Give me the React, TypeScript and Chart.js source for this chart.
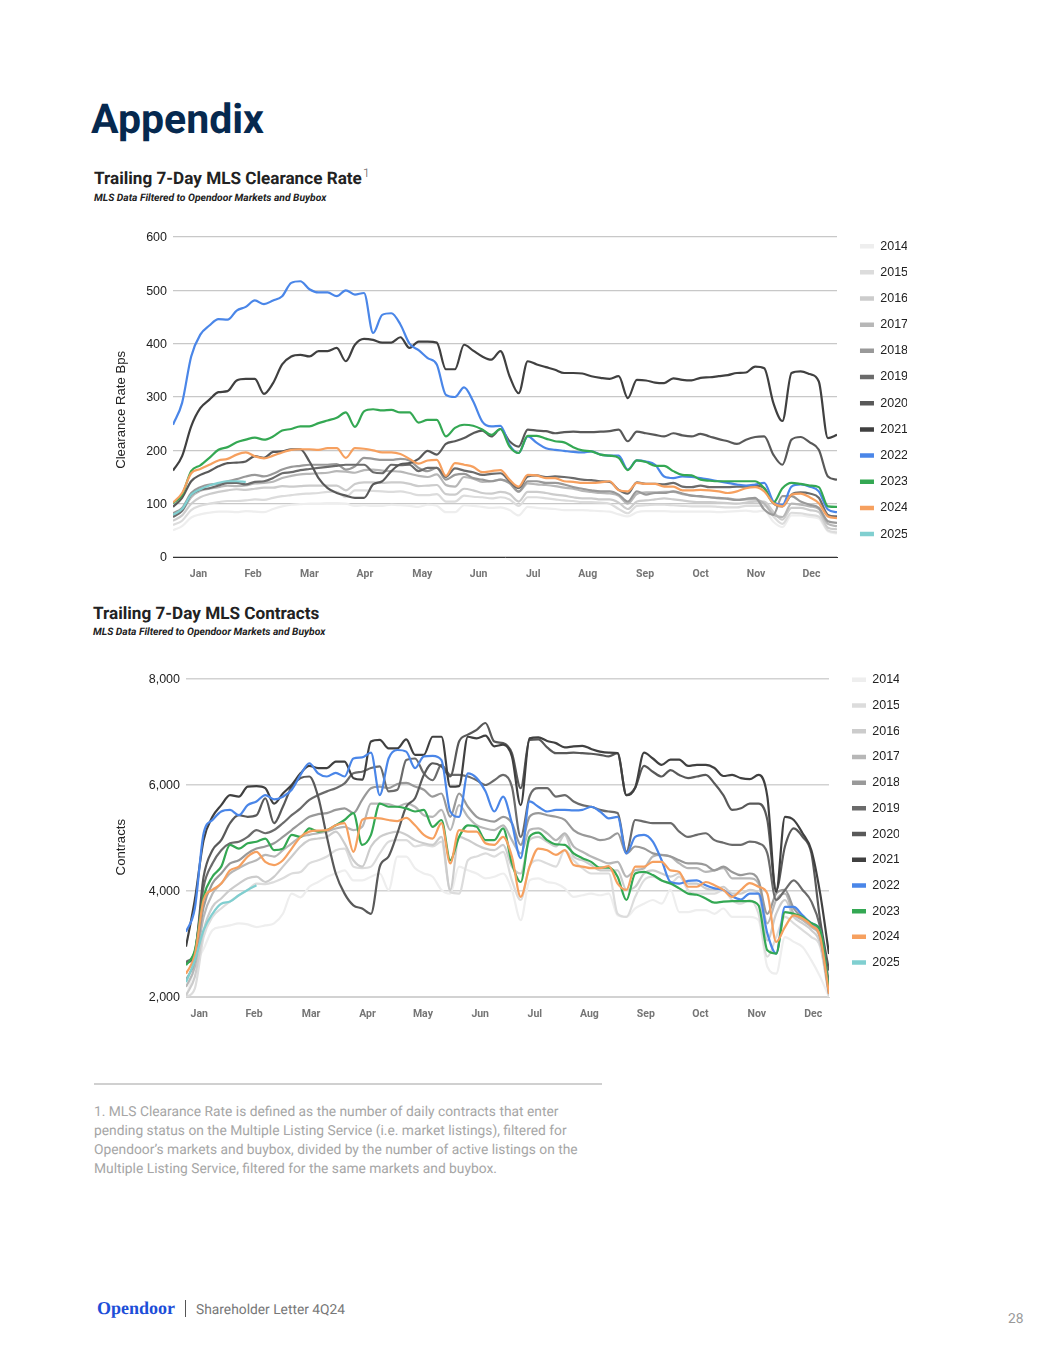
import React, { useEffect, useRef } from "react";
import { Chart, registerables } from "chart.js";

Chart.register(...registerables);

const sampleDays = [0,5,10,15,20,25,30,35,40,45,50,55,60,65,70,75,80,85,90,95,100,105,110,115,120,125,130,135,140,145,150,155,160,165,170,175,180,185,190,195,200,205,210,215,220,225,230,235,240,245,250,255,260,265,270,275,280,285,290,295,300,305,310,315,320,325,330,335,340,345,350,355,360,365];
const yearLabels = ["2014","2015","2016","2017","2018","2019","2020","2021","2022","2023","2024","2025"];
const yearColors = ["#eeeeee","#dcdcdc","#cccccc","#b7b7b7","#999999","#6b6b6b","#595959","#404040","#4a86e8","#34a853","#f6a05f","#80cfd0"];
const monthLabels = ["Jan","Feb","Mar","Apr","May","Jun","Jul","Aug","Sep","Oct","Nov","Dec"];
const clearanceMonthTicks = [14,44,75,105.5,137,168,198,228,259.5,290,320.5,351];
const contractMonthTicks = [7.5,38.6,71,103,134.5,167,198,229,261,292,324,356];

const clearance2014 = [50,58,74,80,83,85,85,84,86,85,84,90,95,98,99,100,100,101,101,100,96,97,96,96,98,97,96,94,98,96,84,84,97,96,94,92,93,88,78,94,92,91,90,88,88,88,87,86,85,80,76,84,86,86,86,85,85,85,85,85,84,85,86,87,85,87,66,56,78,78,75,72,48,44];
const clearance2015 = [60,68,88,96,100,103,105,105,106,108,107,111,114,116,118,119,120,122,122,112,125,125,124,123,122,123,120,116,116,118,104,104,115,113,112,110,112,108,96,112,112,110,108,106,105,103,103,102,100,90,82,96,97,98,98,97,96,95,95,95,94,93,93,96,96,96,76,62,83,82,79,76,50,46];
const clearance2016 = [68,78,100,112,118,122,125,127,126,128,130,130,133,132,133,134,134,134,134,125,137,140,140,139,140,140,137,133,134,135,118,117,128,125,120,119,122,118,104,122,122,120,117,115,112,110,110,108,108,102,90,104,106,108,110,108,106,104,103,103,102,101,100,102,104,104,85,70,92,92,88,84,55,52];
const clearance2017 = [78,86,112,124,128,131,134,133,134,138,139,141,148,152,155,156,157,158,161,160,158,163,164,162,161,160,156,152,150,155,135,132,150,147,141,142,145,138,122,138,136,135,133,130,128,124,122,120,119,115,100,118,121,121,122,122,118,115,113,112,110,110,107,108,108,100,80,75,100,98,95,90,62,58];
const clearance2018 = [82,92,120,131,136,137,142,146,151,154,151,156,164,169,171,173,173,173,174,164,170,186,184,182,182,184,181,167,161,167,145,154,156,148,145,142,145,139,123,142,142,139,139,136,131,128,125,123,123,117,104,123,117,120,120,123,119,115,114,112,111,109,107,109,111,89,79,114,114,104,98,92,67,64];
const clearance2019 = [75,87,117,126,129,134,139,139,136,141,142,148,157,159,163,165,167,169,171,173,173,173,159,157,173,172,173,161,167,167,150,166,162,159,154,156,157,142,129,151,153,150,151,150,148,145,144,142,141,126,119,140,137,137,136,139,132,131,134,131,131,131,132,132,134,129,101,95,117,121,119,111,79,76];
const clearance2020 = [94,111,142,154,161,170,176,177,179,189,186,197,198,202,202,179,148,129,120,115,111,111,136,142,161,174,176,184,199,192,212,217,223,232,237,226,240,217,207,239,237,236,232,234,235,234,234,235,236,239,217,235,232,229,226,232,228,226,231,226,221,217,212,220,225,226,192,173,220,225,215,201,151,145];
const clearance2021 = [162,189,245,279,295,309,311,331,334,334,306,326,361,376,379,376,386,386,392,367,398,409,407,402,402,412,392,404,404,402,352,352,398,387,376,370,386,339,307,367,361,356,351,345,345,344,339,336,334,339,298,332,331,327,326,335,332,331,336,337,339,341,345,346,357,354,289,255,345,348,343,329,223,229];
const clearance2022 = [248,289,376,417,434,446,445,462,469,481,474,481,489,514,517,502,496,496,489,500,492,495,420,454,457,436,400,388,373,361,304,300,318,292,254,245,246,210,195,226,214,204,201,199,197,196,198,192,190,190,164,181,179,173,151,148,151,150,148,145,142,139,136,134,136,139,104,98,132,136,132,123,89,84];
const clearance2023 = [101,117,161,172,186,201,206,215,220,224,220,226,237,240,245,245,251,256,261,271,244,273,277,275,276,271,271,252,257,257,226,242,248,246,239,229,240,207,195,227,227,222,217,215,206,200,198,192,190,186,163,181,178,171,171,161,154,153,145,143,142,142,142,142,142,129,102,129,139,137,134,131,95,94];
const clearance2024 = [102,120,157,165,173,181,184,192,196,189,185,190,196,201,202,202,201,204,204,186,204,203,200,196,196,193,184,175,181,182,152,176,173,169,159,161,163,145,132,154,153,148,148,142,141,139,139,140,142,125,123,139,137,137,132,132,125,125,126,125,123,120,123,129,131,123,101,95,117,119,112,101,76,73];
const clearance2025 = [79,90,117,127,134,139,142,142,141];

const contracts2014 = [1970,2570,2910,3260,3320,3350,3390,3370,3320,3350,3390,3570,3950,3880,4080,4170,4270,4330,4390,4200,4200,4270,4330,4020,4650,4650,4430,4330,4270,4020,3950,4460,4390,4330,4240,4270,4330,4020,3450,4200,4240,4170,4140,4050,3890,3920,3950,3920,3950,3540,3510,3670,3760,3830,3760,4020,3600,3600,3640,3640,3570,3670,3510,3510,3510,3450,2570,2440,3130,3040,2945,2690,2380,2000];
const contracts2015 = [2000,2160,3130,3510,3670,3800,3920,4020,4140,4130,4170,4240,4330,4360,4520,4580,4650,4770,4800,4460,4430,4460,4710,4930,4960,4960,4840,4870,4840,4930,3980,3950,4580,4650,4710,4650,4740,4200,3830,4460,4580,4520,4460,4770,4580,4430,4330,4330,4330,3570,3510,3890,4200,4270,4200,4140,4270,4020,3950,3950,3950,4020,3830,3760,3830,3570,2760,3130,3510,3390,3260,3130,2945,2000];
const contracts2016 = [2030,2380,3260,3700,3860,4020,4140,4240,4270,4170,4270,4460,4650,4840,4960,4990,5020,5120,4900,4580,4460,4840,5020,5090,5120,5060,4960,4900,4870,5020,4020,5020,4960,4870,4800,4770,4870,4460,4330,4960,5020,4930,4840,5060,4650,4580,4490,4390,4390,4390,4020,4080,4330,4390,4330,4270,4330,4140,4140,4050,4020,4080,3950,3950,4020,3950,3070,3570,3830,3510,3390,3260,3010,2030];
const contracts2017 = [2190,2570,3510,3950,4140,4330,4430,4520,4580,4680,4650,4770,4900,5020,5060,5090,5120,5180,5210,5150,5210,5650,5650,5640,5590,5650,5590,5430,5400,5530,5150,5620,5400,5240,5180,5150,5240,4960,4710,5150,5180,5090,4960,5090,4840,4740,4650,4580,4520,4550,4270,4390,4430,4650,4680,4650,4520,4430,4430,4360,4390,4430,4240,4240,4240,4140,3390,3830,3950,3570,3450,3320,3100,2060];
const contracts2018 = [2320,2690,3700,4140,4330,4520,4580,4710,4800,4840,4900,5020,5150,5280,5400,5450,5470,5530,5560,5470,5720,5940,5970,5940,6020,6040,5970,5910,5780,5840,5400,5840,5590,5400,5340,5310,5400,5280,4870,5400,5470,5430,5400,5340,5150,5060,5020,4960,4990,5090,4710,4840,4800,4710,4680,4650,4580,4520,4520,4490,4390,4460,4360,4300,4330,4200,3570,3950,4020,3670,3510,3390,3130,2060];
const contracts2019 = [2660,2850,4080,4520,4770,4900,4930,5020,5150,5090,5150,5280,5430,5560,5720,5810,5880,5940,6030,6220,6250,6320,6350,5880,5910,6470,6500,6220,6090,6380,6190,6190,6160,6090,6000,6090,6190,5970,5020,5780,5940,5940,5780,5810,5690,5620,5590,5530,5500,5470,4740,5340,5310,5280,5280,5280,5120,5020,5060,5090,4960,4910,4870,4870,4930,4900,4710,3830,4020,4200,4020,3800,3320,2250];
const contracts2020 = [2630,2820,4270,4770,4960,5280,5430,5400,5430,5750,5280,5590,5970,6130,6160,5780,5020,4330,3950,3730,3670,3570,4460,4650,5090,5590,5750,6190,6410,6350,6160,6820,6950,7040,7170,6820,6790,6600,5940,6850,6860,6710,6600,6600,6610,6600,6590,6570,6540,6600,5810,5950,6360,6250,6160,6280,6190,6130,6160,6190,6030,5810,5530,5560,5650,5650,5340,4020,4840,5180,5020,4710,3450,2500];
const contracts2021 = [2950,3830,4960,5400,5620,5810,5780,5970,5980,5940,5650,5840,6000,6220,6360,6320,6320,6440,6440,6130,6100,6820,6850,6690,6690,6860,6570,6570,6910,6910,5970,5980,6910,6880,6930,6730,6760,6540,5620,6880,6900,6830,6790,6710,6730,6740,6680,6630,6610,6600,5810,5950,6610,6500,6380,6480,6480,6360,6380,6380,6320,6170,6190,6130,6110,6190,5780,3980,5400,5340,5090,4770,3950,2810];
const contracts2022 = [3230,3670,5090,5340,5500,5530,5430,5620,5690,5810,5730,5780,5910,6190,6410,6220,6160,6230,6160,6500,6520,6610,5810,6500,6660,6630,6320,6540,6550,6470,5500,5400,6220,6130,5880,5500,5780,5280,4620,5690,5590,5500,5530,5530,5520,5530,5590,5500,5370,5400,4710,5020,5060,4930,4580,4170,4140,4190,4200,4110,4050,4020,3900,3840,3950,3950,3200,2820,3700,3700,3540,3390,3260,2090];
const contracts2023 = [2600,2880,3890,4270,4460,4870,4800,4900,4930,4990,4770,4800,5060,5020,5180,5120,5150,5240,5340,5470,4870,5060,5650,5590,5590,5560,5500,5530,5210,5340,4580,5020,5240,5210,4960,4960,5180,4520,4170,5020,5100,4960,4880,4870,4710,4620,4550,4440,4440,4270,3830,4330,4360,4300,4200,4140,4050,3950,3930,3860,3780,3800,3810,3810,3810,3730,2880,2820,3600,3570,3510,3390,3260,2130];
const contracts2024 = [2440,2790,3830,4020,4140,4390,4460,4650,4740,4550,4490,4580,4800,5020,5120,5140,5150,5240,5280,4740,5340,5380,5370,5340,5320,5380,5240,5060,4990,5280,4520,5150,5120,5120,4900,4870,5020,4650,3890,4460,4800,4770,4680,4770,4490,4460,4430,4430,4470,4140,4020,4460,4460,4550,4550,4390,4360,4080,4080,4170,4110,4020,3890,4020,4150,4080,3950,3040,3320,3540,3480,3350,3130,2060];
const contracts2025 = [2280,2690,3260,3570,3760,3800,3920,4020,4110];

const clearanceSeries = [clearance2014,clearance2015,clearance2016,clearance2017,clearance2018,clearance2019,clearance2020,clearance2021,clearance2022,clearance2023,clearance2024,clearance2025];
const contractSeries = [contracts2014,contracts2015,contracts2016,contracts2017,contracts2018,contracts2019,contracts2020,contracts2021,contracts2022,contracts2023,contracts2024,contracts2025];

type ChartProps = {
  series: number[][]; monthTicks: number[]; axisTitle: string; yMin: number; yMax: number; yStep: number;
  left: number; top: number; width: number; height: number; plotLeft: number; plotTop: number; xHeight: number;
  legendLeft: number; legendTop: number; legendPad: number; gridColor: string; gridWidth: number; zeroColor: string;
};

function LineChart(p: ChartProps) {
  const ref = useRef<HTMLCanvasElement>(null);
  useEffect(() => {
    const legendPlacer = {
      id: "legendPlacer",
      afterLayout(chart: any) {
        if (chart.legend) { chart.legend.left = p.legendLeft; chart.legend.top = p.legendTop; }
      },
    };
    const chart = new Chart(ref.current!, {
      type: "line",
      data: {
        datasets: series2datasets(p.series),
      },
      plugins: [legendPlacer],
      options: {
        animation: false,
        responsive: false,
        devicePixelRatio: 1,
        layout: { padding: { top: p.plotTop, left: 0, right: 15, bottom: 0 } },
        elements: { point: { radius: 0 } },
        plugins: {
          tooltip: { enabled: false },
          legend: {
            position: "right",
            align: "start",
            maxWidth: 70,
            labels: {
              boxWidth: 14,
              boxHeight: 4.5,
              padding: p.legendPad,
              color: "#222222",
              font: { family: "'Liberation Sans', Arial, sans-serif", size: 12.5 },
              sort: (a: any, b: any) => a.datasetIndex - b.datasetIndex,
              generateLabels(c: any) {
                return Chart.defaults.plugins.legend.labels.generateLabels(c).map((l: any) => ({ ...l, lineWidth: 0 }));
              },
            },
          },
        },
        scales: {
          x: {
            type: "linear",
            min: 0,
            max: 365,
            afterFit(s: any) { s.height = p.xHeight; },
            afterBuildTicks(s: any) { s.ticks = p.monthTicks.map((v) => ({ value: v })); },
            grid: { display: false, drawTicks: false },
            border: { color: p.zeroColor, width: 1 },
            ticks: {
              autoSkip: false,
              maxRotation: 0,
              padding: 11,
              color: "#757575",
              font: { family: "Roboto, sans-serif", size: 10.5, weight: "700" },
              callback: (_v: any, i: number) => monthLabels[i],
            },
          },
          y: {
            min: p.yMin,
            max: p.yMax,
            afterFit(s: any) { s.width = p.plotLeft; },
            ticks: {
              stepSize: p.yStep,
              padding: 6,
              labelOffset: 1,
              color: "#222222",
              font: { family: "'Liberation Sans', Arial, sans-serif", size: 12.5 },
            },
            grid: { color: p.gridColor, lineWidth: p.gridWidth, drawTicks: false },
            border: { display: false },
            title: {
              display: true,
              text: p.axisTitle,
              color: "#222222",
              padding: { top: 13, bottom: 0 },
              font: { family: "'Liberation Sans', Arial, sans-serif", size: 13.2 },
            },
          },
        },
      },
    } as any);
    return () => chart.destroy();
  }, []);
  return (
    <canvas
      ref={ref}
      width={p.width}
      height={p.height}
      style={{ position: "absolute", left: p.left, top: p.top, width: p.width, height: p.height, display: "block" }}
    />
  );
}

function series2datasets(series: number[][]) {
  return series.map((vals, i) => ({
    label: yearLabels[i],
    data: vals.map((y, j) => ({ x: sampleDays[j], y })),
    borderColor: yearColors[i],
    backgroundColor: yearColors[i],
    borderWidth: 2.2,
    cubicInterpolationMode: "monotone",
    order: -i,
  }));
}

const roboto = "Roboto, sans-serif";

function Text(props: { x: number; y: number; size: number; color: string; weight?: number; italic?: boolean; family?: string; children: React.ReactNode }) {
  return (
    <div
      style={{
        position: "absolute", left: props.x, top: props.y - props.size + 1, height: props.size * 2, lineHeight: `${props.size * 2}px`,
        fontFamily: props.family || roboto, fontSize: props.size, fontWeight: props.weight || 400,
        fontStyle: props.italic ? "italic" : "normal", color: props.color, whiteSpace: "nowrap",
        textRendering: "geometricPrecision",
      }}
    >
      {props.children}
    </div>
  );
}

const footnoteLines = [
  "1. MLS Clearance Rate is defined as the number of daily contracts that enter",
  "pending status on the Multiple Listing Service (i.e. market listings), filtered for",
  "Opendoor’s markets and buybox, divided by the number of active listings on the",
  "Multiple Listing Service, filtered for the same markets and buybox.",
];
const footnoteY = [1112, 1131, 1150, 1169];

export default function App() {
  return (
    <div style={{ position: "absolute", left: 0, top: 0, width: 1055, height: 1365, background: "#fff", overflow: "hidden" }}>
      <Text x={91} y={119} size={41} weight={700} color="#06294f">Appendix</Text>
      <Text x={94} y={178} size={17.15} weight={700} color="#222222">
        Trailing 7-Day MLS Clearance Rate<sup style={{ fontSize: 12, fontWeight: 300, color: "#555", lineHeight: 0, marginLeft: 1 }}>1</sup>
      </Text>
      <Text x={94} y={197} size={10.3} weight={700} italic color="#222222">MLS Data Filtered to Opendoor Markets and Buybox</Text>
      <LineChart
        series={clearanceSeries} monthTicks={clearanceMonthTicks} axisTitle={"Clearance Rate Bps\u00A0\u00A0\u00A0\u00A0\u00A0\u00A0\u00A0"}
        yMin={0} yMax={600} yStep={100}
        left={100} top={220} width={822} height={367} plotLeft={73} plotTop={17} xHeight={30}
        legendLeft={746.3} legendTop={6.2} legendPad={13.68} gridColor="#c8c8c8" gridWidth={1.2} zeroColor="#333333"
      />
      <Text x={93} y={613} size={17.15} weight={700} color="#222222">Trailing 7-Day MLS Contracts</Text>
      <Text x={93} y={631} size={10.3} weight={700} italic color="#222222">MLS Data Filtered to Opendoor Markets and Buybox</Text>
      <LineChart
        series={contractSeries} monthTicks={contractMonthTicks} axisTitle={"Contracts\u00A0\u00A0\u00A0\u00A0\u00A0"}
        yMin={2000} yMax={8000} yStep={2000}
        left={100} top={650} width={814} height={380} plotLeft={86} plotTop={29} xHeight={33}
        legendLeft={738.8} legendTop={10.4} legendPad={13.2} gridColor="#d2d2d2" gridWidth={1.6} zeroColor="#d2d2d2"
      />
      <div style={{ position: "absolute", left: 94, top: 1083, width: 508, height: 2, background: "#d0d0d0" }} />
      {footnoteLines.map((t, i) => (
        <Text key={i} x={94} y={footnoteY[i]} size={13.8} color="#a6a6a6">{t}</Text>
      ))}
      <Text x={97} y={1307} size={18} weight={700} color="#1d4ed8" family="'Liberation Serif', serif">Opendoor</Text>
      <div style={{ position: "absolute", left: 185, top: 1300, width: 1, height: 17, background: "#555" }} />
      <Text x={196} y={1310} size={13.8} color="#777777">Shareholder Letter 4Q24</Text>
      <Text x={1008} y={1319} size={13.8} color="#999999">28</Text>
    </div>
  );
}
